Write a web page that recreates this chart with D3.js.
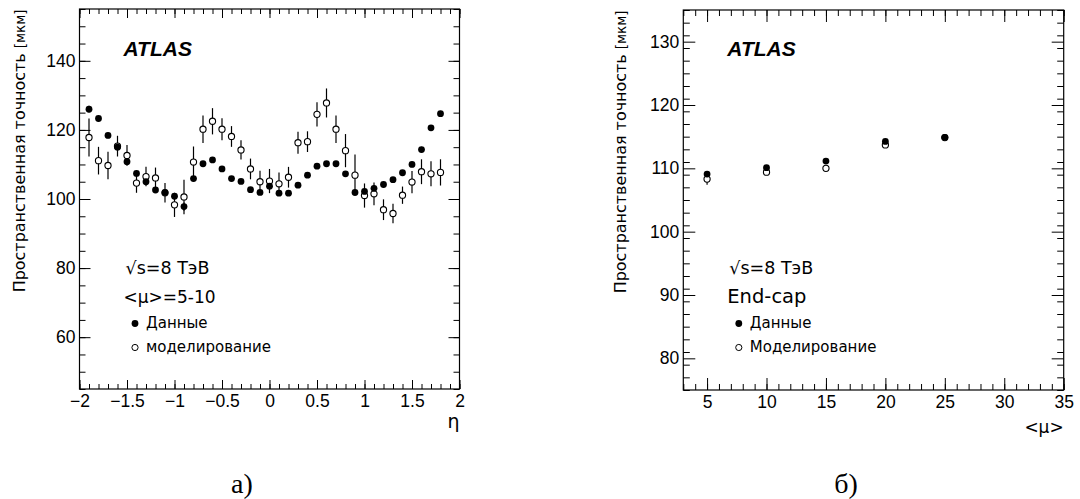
<!DOCTYPE html>
<html><head><meta charset="utf-8">
<script src="https://cdn.jsdelivr.net/npm/d3@7"></script>
<style>
body{margin:0;background:#fff}
svg{display:block}
text{fill:#000}
</style>
</head><body>
<svg id="c" width="1080" height="499"></svg>
<script>
// ---------- data: panel a) ----------
const etaBins = [-1.9,-1.8,-1.7,-1.6,-1.5,-1.4,-1.3,-1.2,-1.1,-1.0,-0.9,-0.8,-0.7,-0.6,-0.5,-0.4,-0.3,-0.2,-0.1,0.0,
                 0.1,0.2,0.3,0.4,0.5,0.6,0.7,0.8,0.9,1.0,1.1,1.2,1.3,1.4,1.5,1.6,1.7,1.8];
const etaData = [126.0,123.3,118.4,115.0,110.8,107.4,105.0,102.6,101.9,100.8,97.8,105.9,110.2,111.3,108.7,105.9,105.1,102.7,101.9,103.7,
                 101.7,101.7,104.0,106.9,109.5,110.2,110.2,107.3,101.9,102.2,103.1,104.2,105.6,107.6,110.0,114.3,120.6,124.7];
const etaDataErr = [1.0,0.8,0.8,1.0,1.0,0.8,0.8,0.8,0.8,0.8,1.2,0.8,0.6,0.6,0.6,0.6,0.6,0.6,0.6,0.6,
                    0.6,0.6,0.6,0.6,0.6,0.6,0.6,0.6,0.8,0.8,0.8,0.8,0.8,0.8,0.8,0.8,0.8,0.8];
const etaMC = [117.8,111.1,109.7,115.3,112.6,104.6,106.5,106.1,101.8,98.3,100.6,110.7,120.2,122.5,120.2,118.1,114.2,108.7,105.0,105.2,
               104.4,106.3,116.3,116.6,124.5,127.8,120.2,114.0,106.9,101.0,101.5,96.9,95.8,101.1,104.9,107.9,107.3,107.7];
const etaMCErr = [5.5,4.0,4.0,3.0,3.0,2.8,2.8,3.0,2.8,3.5,5.0,4.5,4.0,3.8,3.2,3.0,2.8,3.0,3.2,3.5,
                  3.3,3.0,3.2,3.0,3.5,4.2,4.0,4.8,6.0,3.5,3.3,3.0,2.8,2.5,3.2,3.6,3.6,3.8];
const etaTicks = [-2,-1.5,-1,-0.5,0,0.5,1,1.5,2];
const resTicksA = [60,80,100,120,140];

// ---------- data: panel б) ----------
const muBins = [5,10,15,20,25];
const muData = [109.1,110.1,111.15,114.25,114.9];
const muDataErr = [0.3,0.3,0.3,0.3,0.3];
const muMC = [108.3,109.4,110.0,113.7,114.85];
const muMCErr = [0.9,0.3,0.3,0.3,0.3];
const muTicks = [5,10,15,20,25,30,35];
const resTicksB = [80,90,100,110,120,130];

const HELV = "'Liberation Sans',Arial,Helvetica,sans-serif";
const DJV = "'DejaVu Sans',sans-serif";
const SERIF = "'Liberation Serif','Times New Roman',serif";

const svg = d3.select("#c");
const fmt = d => d < 0 ? "\u2212" + Math.abs(d) : String(d);
const yTitle = "Пространственная точность ";

function panel(cfg){
  const x = d3.scaleLinear().domain(cfg.xDomain).range([cfg.left, cfg.right]);
  const y = d3.scaleLinear().domain(cfg.yDomain).range([cfg.bottom, cfg.top]);
  const g = svg.append("g");

  const minorX = d3.range(cfg.xDomain[0], cfg.xDomain[1] + 1e-9, cfg.xMinor).map(v => +v.toFixed(4));
  const minorY = d3.range(cfg.yDomain[0], cfg.yDomain[1] + 1e-9, cfg.yMinor).map(v => +v.toFixed(4));

  const styleLabels = a => a.selectAll("text").attr("font-size", null).attr("font-family", null)
      .style("font-family", HELV).style("font-size", cfg.labelSize + "px");

  // bottom axis
  g.append("g").attr("transform", `translate(0,${cfg.bottom})`)
    .call(d3.axisBottom(x).tickValues(cfg.xTicks).tickFormat(fmt)
      .tickSizeInner(-cfg.xMajorLen).tickSizeOuter(0).tickPadding(6))
    .call(styleLabels);
  g.append("g").attr("transform", `translate(0,${cfg.bottom})`)
    .call(d3.axisBottom(x).tickValues(minorX).tickFormat("").tickSizeInner(-cfg.xMinorLen).tickSizeOuter(0));
  // top axis
  g.append("g").attr("transform", `translate(0,${cfg.top})`)
    .call(d3.axisTop(x).tickValues(cfg.xTicks).tickFormat("").tickSizeInner(-cfg.xMajorLen).tickSizeOuter(0));
  g.append("g").attr("transform", `translate(0,${cfg.top})`)
    .call(d3.axisTop(x).tickValues(minorX).tickFormat("").tickSizeInner(-cfg.xMinorLen).tickSizeOuter(0));
  // left axis
  g.append("g").attr("transform", `translate(${cfg.left},0)`)
    .call(d3.axisLeft(y).tickValues(cfg.yTicks).tickFormat(fmt)
      .tickSizeInner(-cfg.yMajorLen).tickSizeOuter(0).tickPadding(4))
    .call(styleLabels);
  g.append("g").attr("transform", `translate(${cfg.left},0)`)
    .call(d3.axisLeft(y).tickValues(minorY).tickFormat("").tickSizeInner(-cfg.yMinorLen).tickSizeOuter(0));
  // right axis
  g.append("g").attr("transform", `translate(${cfg.right},0)`)
    .call(d3.axisRight(y).tickValues(cfg.yTicks).tickFormat("").tickSizeInner(-cfg.yMajorLen).tickSizeOuter(0));
  g.append("g").attr("transform", `translate(${cfg.right},0)`)
    .call(d3.axisRight(y).tickValues(minorY).tickFormat("").tickSizeInner(-cfg.yMinorLen).tickSizeOuter(0));

  g.selectAll(".domain").remove();
  g.selectAll(".tick line").attr("stroke", "#000").attr("stroke-width", 1);

  // frame
  g.append("rect").attr("x", cfg.left).attr("y", cfg.top)
    .attr("width", cfg.right - cfg.left).attr("height", cfg.bottom - cfg.top)
    .attr("fill", "none").attr("stroke", "#000").attr("stroke-width", 1.2);

  const pts = g.append("g");
  // simulation first (error bars + open markers)
  pts.selectAll(".eM").data(cfg.xs).join("line").attr("class", "eM")
    .attr("x1", (d) => x(d)).attr("x2", (d) => x(d))
    .attr("y1", (d,i) => y(cfg.mc[i] - cfg.mcErr[i])).attr("y2", (d,i) => y(cfg.mc[i] + cfg.mcErr[i]))
    .attr("stroke", "#000").attr("stroke-width", 1.2);
  pts.selectAll(".mM").data(cfg.xs).join("circle").attr("class", "mM")
    .attr("cx", d => x(d)).attr("cy", (d,i) => y(cfg.mc[i])).attr("r", 3.1)
    .attr("fill", "#fff").attr("stroke", "#000").attr("stroke-width", 1.1);
  // data on top
  pts.selectAll(".eD").data(cfg.xs).join("line").attr("class", "eD")
    .attr("x1", (d) => x(d)).attr("x2", (d) => x(d))
    .attr("y1", (d,i) => y(cfg.data[i] - cfg.dataErr[i])).attr("y2", (d,i) => y(cfg.data[i] + cfg.dataErr[i]))
    .attr("stroke", "#000").attr("stroke-width", 1.2);
  pts.selectAll(".mD").data(cfg.xs).join("circle").attr("class", "mD")
    .attr("cx", d => x(d)).attr("cy", (d,i) => y(cfg.data[i])).attr("r", 3.4).attr("fill", "#000");

  // ATLAS
  g.append("text").attr("x", cfg.left + 44).attr("y", 56)
    .style("font-family", HELV).style("font-size", "21px")
    .style("font-weight", "bold").style("font-style", "italic").text("ATLAS");

  // annotations
  g.append("text").attr("x", cfg.left + 46).attr("y", 273.5)
    .style("font-family", DJV).style("font-size", "17.5px").text("\u221As=8 ТэВ");
  g.append("text").attr("x", cfg.left + 44).attr("y", 302.5)
    .style("font-family", DJV).style("font-size", cfg.label2Size + "px").text(cfg.label2);
  g.append("circle").attr("cx", cfg.left + 55.5).attr("cy", 323.5).attr("r", 3.4).attr("fill", "#000");
  g.append("text").attr("x", cfg.left + 66.5).attr("y", 328)
    .style("font-family", DJV).style("font-size", "15px").text("Данные");
  g.append("circle").attr("cx", cfg.left + 55.5).attr("cy", 347.5).attr("r", 3.1)
    .attr("fill", "#fff").attr("stroke", "#000").attr("stroke-width", 1);
  g.append("text").attr("x", cfg.left + 66.5).attr("y", 352)
    .style("font-family", DJV).style("font-size", "15px").text(cfg.mcName);

  // y-axis title (fit to the measured span of the original)
  const t = g.append("text").attr("transform", `translate(${cfg.yTitleX},${cfg.top + 0.5}) rotate(-90)`)
    .attr("text-anchor", "end").style("font-family", DJV);
  const t1 = t.append("tspan").style("font-size", "15.5px").text(yTitle);
  const t2 = t.append("tspan").style("font-size", "13px").text("[мкм]");
  const len = t.node().getComputedTextLength();
  const k = 283 / len;
  t1.style("font-size", (15.5 * k) + "px");
  t2.style("font-size", (13 * k) + "px");

  // x-axis title
  g.append("text").attr("x", cfg.right).attr("y", cfg.xTitleY).attr("text-anchor", "end")
    .style("font-family", DJV).style("font-size", cfg.xTitleSize + "px").text(cfg.xTitle);

  // caption
  g.append("text").attr("x", cfg.capX).attr("y", 493).attr("text-anchor", "middle")
    .style("font-family", SERIF).style("font-size", "28px").text(cfg.caption);
}

panel({
  left: 79.5, right: 459.5, top: 9, bottom: 389,
  xDomain: [-2, 2], yDomain: [45, 155], xMinor: 0.1, yMinor: 5,
  xTicks: etaTicks, yTicks: resTicksA,
  xMajorLen: 9, xMinorLen: 5, yMajorLen: 11, yMinorLen: 6, labelSize: 17.5,
  xs: etaBins, data: etaData, dataErr: etaDataErr, mc: etaMC, mcErr: etaMCErr,
  label2: "<\u03BC>=5-10", label2Size: 17, mcName: "моделирование",
  yTitleX: 25, xTitle: "\u03B7", xTitleY: 428, xTitleSize: 19,
  caption: "а)", capX: 242
});

panel({
  left: 683.3, right: 1063.7, top: 10, bottom: 390,
  xDomain: [3, 35], yDomain: [75, 135], xMinor: 1, yMinor: 2,
  xTicks: muTicks, yTicks: resTicksB,
  xMajorLen: 12, xMinorLen: 6, yMajorLen: 12, yMinorLen: 6.5, labelSize: 17.5,
  xs: muBins, data: muData, dataErr: muDataErr, mc: muMC, mcErr: muMCErr,
  label2: "End-cap", label2Size: 19.5, mcName: "Моделирование",
  yTitleX: 626, xTitle: "<\u03BC>", xTitleY: 433, xTitleSize: 17,
  caption: "б)", capX: 846
});
</script>
</body></html>
